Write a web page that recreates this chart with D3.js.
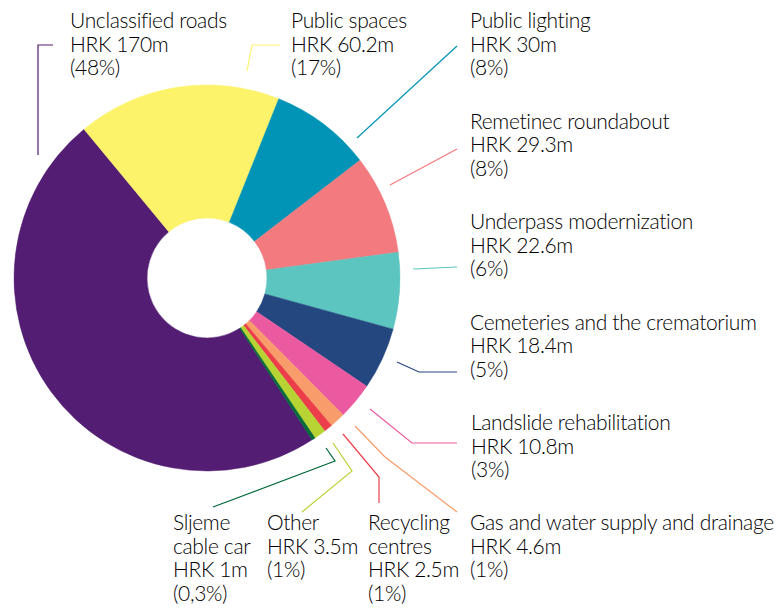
<!DOCTYPE html>
<html>
<head>
<meta charset="utf-8">
<script src="https://cdn.jsdelivr.net/npm/d3@7"></script>
<style>
  html, body { margin: 0; padding: 0; background: #fff; }
  svg { display: block; }
  text { font-family: Lato, "Open Sans", sans-serif; font-size: 21px; font-weight: 300; fill: #000;
         letter-spacing: -0.35px; font-variant-ligatures: none; }
</style>
</head>
<body>
<svg id="chart" width="778" height="608"></svg>
<script>
// ---- data ----
const categories = [
  "Unclassified roads", "Public spaces", "Public lighting", "Remetinec roundabout",
  "Underpass modernization", "Cemeteries and the crematorium", "Landslide rehabilitation",
  "Gas and water supply and drainage", "Recycling centres", "Other", "Sljeme cable car"
];
const valuesHRKm = [170, 60.2, 30, 29.3, 22.6, 18.4, 10.8, 4.6, 2.5, 3.5, 1];
const valueLabels = ["HRK 170m", "HRK 60.2m", "HRK 30m", "HRK 29.3m", "HRK 22.6m", "HRK 18.4m",
  "HRK 10.8m", "HRK 4.6m", "HRK 2.5m", "HRK 3.5m", "HRK 1m"];
const shareLabels = ["(48%)", "(17%)", "(8%)", "(8%)", "(6%)", "(5%)", "(3%)", "(1%)", "(1%)", "(1%)", "(0,3%)"];
const nameLines = [
  ["Unclassified roads"], ["Public spaces"], ["Public lighting"], ["Remetinec roundabout"],
  ["Underpass modernization"], ["Cemeteries and the crematorium"], ["Landslide rehabilitation"],
  ["Gas and water supply and drainage"], ["Recycling", "centres"], ["Other"], ["Sljeme", "cable car"]
];
const colors = ["#521d72", "#fdf36b", "#0294b6", "#f37a7e", "#5cc5bf", "#23477e", "#eb5aa0",
  "#f89c6b", "#ec3e4a", "#b8d334", "#00693a"];

// ---- layout (positions only) ----
const cx = 207, cy = 278, R = 193, r0 = 60;
const labelPos = [
  [70, 28], [291, 28], [470, 28], [470, 128.5], [470, 229], [470, 329.5],
  [471, 430], [470, 530], [368, 530], [267, 530], [173, 530]
];
const leaders = [
  [[38, 155], [38, 45], [53, 45]],
  [[247, 71], [252, 45], [280, 45]],
  [[357, 138], [457, 46]],
  [[390, 185], [457, 149]],
  [[413, 269], [457, 267]],
  [[397, 362], [419, 372], [457, 372]],
  [[370, 409], [412, 443], [457, 443]],
  [[355, 426], [385, 457], [457, 512]],
  [[343, 434], [379, 477], [379, 503]],
  [[333, 443], [352, 471], [302, 512]],
  [[326, 448], [335, 461], [213, 507]]
];
const lineH = 23.7;

const svg = d3.select("#chart");
const data = categories.map((c, i) => ({ name: c, value: valuesHRKm[i], i }));

const pie = d3.pie().sort(null).value(d => d.value)
  .startAngle(147 * Math.PI / 180).endAngle(147 * Math.PI / 180 + 2 * Math.PI);
const arc = d3.arc().innerRadius(r0).outerRadius(R);

const g = svg.append("g").attr("transform", `translate(${cx},${cy})`);
g.selectAll("path").data(pie(data)).join("path")
  .attr("d", arc)
  .attr("fill", d => colors[d.data.i])
  .attr("stroke", d => colors[d.data.i])
  .attr("stroke-width", 0.5);

const line = d3.line();
svg.append("g").selectAll("path").data(leaders).join("path")
  .attr("d", d => line(d))
  .attr("fill", "none")
  .attr("stroke", (d, i) => colors[i])
  .attr("stroke-width", 1.2);

const lg = svg.append("g");
data.forEach((d, i) => {
  const lines = [...nameLines[i], valueLabels[i], shareLabels[i]];
  const t = lg.append("text").attr("x", labelPos[i][0]).attr("y", labelPos[i][1]);
  lines.forEach((s, k) => {
    t.append("tspan").attr("x", labelPos[i][0]).attr("y", labelPos[i][1] + k * lineH).text(s);
  });
});
</script>
</body>
</html>
